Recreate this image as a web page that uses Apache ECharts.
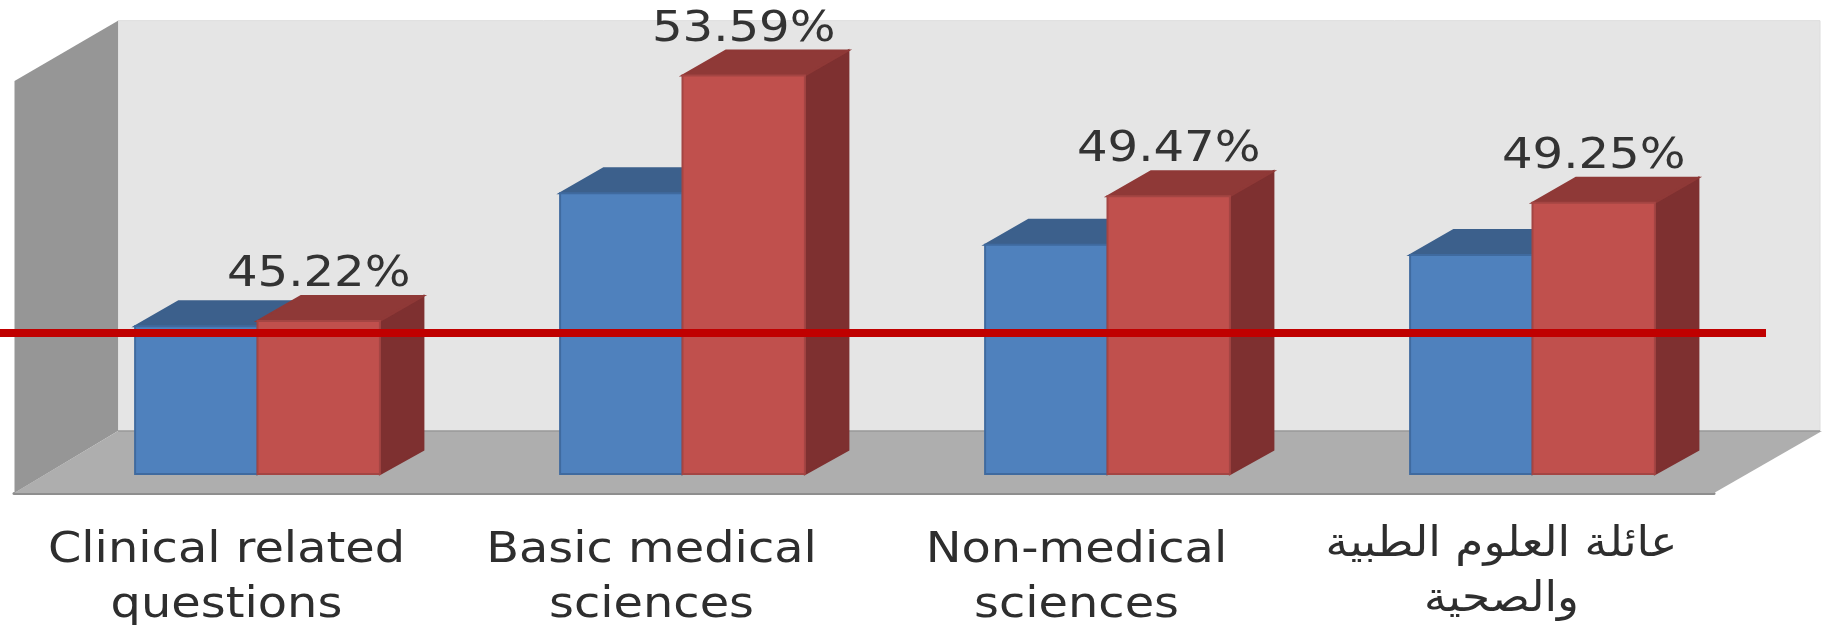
<!DOCTYPE html>
<html><head><meta charset="utf-8">
<style>html,body{margin:0;padding:0;background:#fff;overflow:hidden}#c{width:1835px;height:625px;filter:blur(0.6px)}</style>
<script src="https://cdn.jsdelivr.net/npm/echarts@6/dist/echarts.min.js"></script>
</head><body><div id="c"></div>
<script>
const categories = ['Clinical related\nquestions', 'Basic medical\nsciences', 'Non-medical\nsciences', 'عائلة العلوم الطبية\nوالصحية'];
const blueValues = [45.04, 49.57, 47.82, 47.47];
const redValues = [45.22, 53.59, 49.47, 49.25];
const referenceLineValue = [44.81];

const FONT = '"DejaVu Sans", sans-serif';
const SHIFT_X = 31, SHIFT_Y = -19, DEPTH_X = 43.5, DEPTH_TOP = -25, DEPTH_BASE = -24, BAR_RATIO = 0.288;

function barRenderer(offset, front, stroke, top, side, withLabel) {
  return function (params, api) {
    const i = api.value(0), v = api.value(1);
    const p = api.coord([i, v]), b = api.coord([i, 40]);
    const w = api.size([1, 0])[0] * BAR_RATIO;
    const x0 = p[0] + SHIFT_X + offset * w, x1 = x0 + w;
    const yT = p[1] + SHIFT_Y, yB = b[1] + SHIFT_Y;
    const poly = (pts, fill, edge) => ({type: 'polygon', shape: {points: pts},
      style: {fill: fill, stroke: edge, lineWidth: 2}});
    const kids = [
      poly([[x1, yB], [x1 + DEPTH_X, yB + DEPTH_BASE], [x1 + DEPTH_X, yT + DEPTH_TOP], [x1, yT]], side, side),
      poly([[x0, yT], [x1, yT], [x1 + DEPTH_X, yT + DEPTH_TOP], [x0 + DEPTH_X, yT + DEPTH_TOP]], top, top),
      poly([[x0, yB], [x1, yB], [x1, yT], [x0, yT]], front, stroke)
    ];
    if (withLabel) {
      kids.push({type: 'text', x: (x0 + x1) / 2, y: yT - 46, scaleX: 1.12, scaleY: 1,
        style: {text: v.toFixed(2) + '%', font: '43px ' + FONT, fill: '#333333', align: 'center', verticalAlign: 'middle'}});
    }
    return {type: 'group', children: kids};
  };
}

function categoryLabel(params, api) {
  const i = api.value(0);
  const b = api.coord([i, 40]);
  const arabic = /[\u0600-\u06ff]/.test(categories[i]);
  return {type: 'text', x: b[0], y: b[1] + (arabic ? 80 : 85.5), scaleX: arabic ? 1.08 : 1.14, scaleY: 1,
    style: {text: categories[i], font: '42px ' + FONT, lineHeight: 55, fill: '#2e2e2e', align: 'center', verticalAlign: 'middle'}};
}

const chart = echarts.init(document.getElementById('c'), null, {renderer: 'canvas'});
chart.setOption({
  animation: false,
  backgroundColor: '#ffffff',
  grid: {left: 14, width: 1700, top: 82.4, height: 410.6, containLabel: false, outerBoundsMode: 'none'},
  xAxis: {type: 'category', data: categories,
    axisLine: {show: true, onZero: false, lineStyle: {color: '#8e8e8e', width: 3}},
    axisTick: {show: false},
    axisLabel: {show: false}},
  yAxis: {type: 'value', min: 40, max: 54, show: false},
  graphic: {elements: [
    {type: 'polygon', z: 0, silent: true, shape: {points: [[118, 20.7], [1820, 20.7], [1820, 431], [118, 431]]},
      style: {fill: '#e5e5e5', stroke: '#dcdcdc', lineWidth: 1}},
    {type: 'polygon', z: 1, silent: true, shape: {points: [[14.5, 81], [118, 20.7], [118, 431], [14.5, 493]]},
      style: {fill: '#969696'}},
    {type: 'polygon', z: 1, silent: true, shape: {points: [[14, 493], [118, 431], [1822, 431], [1714, 493]]},
      style: {fill: '#aeaeae'}},
    {type: 'line', z: 1, silent: true, shape: {x1: 118, y1: 431, x2: 1820, y2: 431},
      style: {stroke: '#999999', lineWidth: 1.5}}
  ]},
  series: [
    {name: 'Series 1', type: 'custom', coordinateSystem: 'cartesian2d', z: 3, silent: true,
      data: blueValues.map((v, i) => [i, v]), encode: {x: 0, y: 1},
      renderItem: barRenderer(-1, '#4f81bd', '#3f6a9f', '#3c608c', '#325075', false)},
    {name: 'Series 2', type: 'custom', coordinateSystem: 'cartesian2d', z: 4, silent: true,
      data: redValues.map((v, i) => [i, v]), encode: {x: 0, y: 1},
      renderItem: barRenderer(0, '#c0504d', '#a44543', '#8f3937', '#7e3030', true)},
    {name: 'Reference', type: 'custom', coordinateSystem: 'cartesian2d', z: 5, silent: true,
      data: referenceLineValue.map(v => [0, v]), encode: {x: 0, y: 1},
      renderItem: function (params, api) {
        const y = api.coord([0, api.value(1)])[1] + SHIFT_Y;
        return {type: 'line', shape: {x1: 0, y1: y, x2: 1766, y2: y},
          style: {stroke: '#c00000', lineWidth: 8}};
      }},
    {name: 'Category labels', type: 'custom', coordinateSystem: 'cartesian2d', z: 6, silent: true,
      data: categories.map((c, i) => [i, 40]), encode: {x: 0, y: 1},
      renderItem: categoryLabel}
  ]
});
</script></body></html>
